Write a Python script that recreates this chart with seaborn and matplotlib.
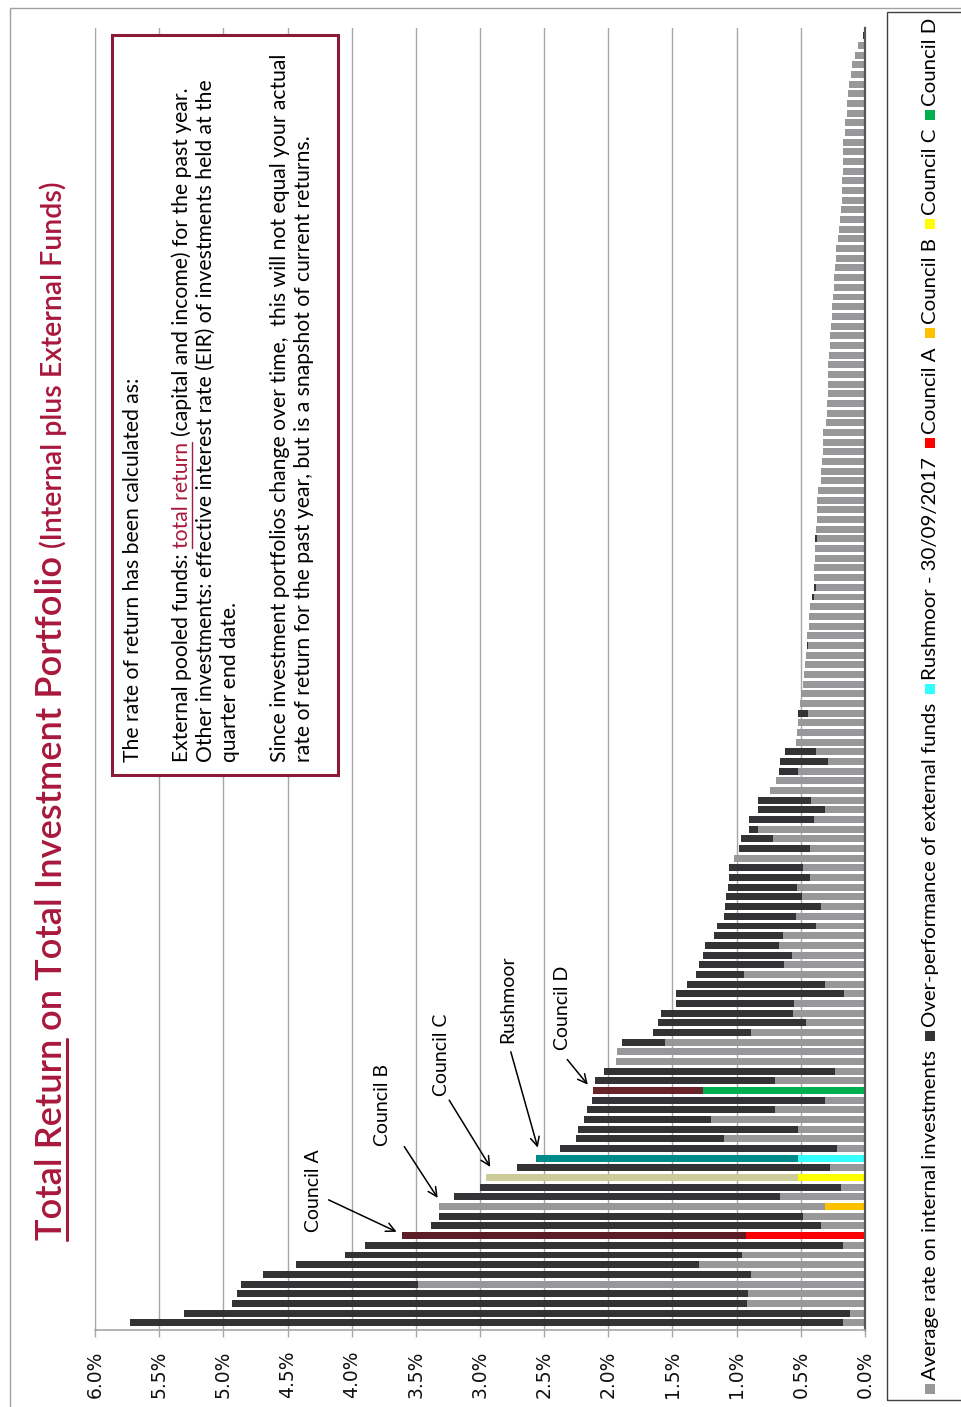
import numpy as np
import pandas as pd
import matplotlib
matplotlib.use('Agg')
import matplotlib.pyplot as plt
import seaborn as sns
from matplotlib.patches import Rectangle
from matplotlib.lines import Line2D

# bar values in %, listed from the first (bottom) bar to the last (top) bar
total_return = [5.73, 5.31, 4.93, 4.89, 4.86, 4.69, 4.43, 4.05, 3.90, 3.61,
                3.38, 3.32, 3.32, 3.20, 3.00, 2.95, 2.71, 2.56, 2.38, 2.25,
                2.24, 2.19, 2.17, 2.13, 2.12, 2.10, 2.03, 1.94, 1.93, 1.89,
                1.65, 1.61, 1.59, 1.47, 1.47, 1.39, 1.32, 1.29, 1.26, 1.25,
                1.18, 1.15, 1.10, 1.09, 1.08, 1.07, 1.06, 1.06, 1.02, 0.98,
                0.97, 0.90, 0.90, 0.83, 0.83, 0.74, 0.69, 0.67, 0.66, 0.62,
                0.535, 0.527, 0.52, 0.52, 0.51, 0.50, 0.48, 0.475, 0.467, 0.46,
                0.455, 0.452, 0.436, 0.436, 0.43, 0.41, 0.40, 0.40, 0.395, 0.387,
                0.387, 0.387, 0.38, 0.372, 0.372, 0.372, 0.364, 0.343, 0.343, 0.335,
                0.327, 0.327, 0.327, 0.304, 0.296, 0.296, 0.288, 0.288, 0.288, 0.288,
                0.280, 0.272, 0.272, 0.264, 0.257, 0.257, 0.249, 0.241, 0.241, 0.233,
                0.225, 0.225, 0.209, 0.202, 0.196, 0.188, 0.181, 0.181, 0.180, 0.175,
                0.175, 0.175, 0.168, 0.152, 0.152, 0.144, 0.144, 0.136, 0.128, 0.107,
                0.099, 0.076, 0.055, 0.012]

internal_rate = [0.17, 0.12, 0.92, 0.91, 3.48, 0.89, 1.29, 0.96, 0.17, 0.93,
                 0.34, 0.48, 0.31, 0.66, 0.19, 0.52, 0.27, 0.52, 0.22, 1.10,
                 0.52, 1.20, 0.70, 0.31, 1.26, 0.70, 0.23, 1.94, 1.93, 1.56,
                 0.89, 0.46, 0.56, 0.55, 0.16, 0.31, 0.94, 0.63, 0.57, 0.67,
                 0.64, 0.38, 0.54, 0.34, 0.49, 0.53, 0.43, 0.48, 1.02, 0.43,
                 0.72, 0.83, 0.40, 0.31, 0.42, 0.74, 0.69, 0.52, 0.29, 0.38,
                 0.535, 0.527, 0.52, 0.447, 0.51, 0.50, 0.48, 0.475, 0.467, 0.46,
                 0.444, 0.452, 0.436, 0.436, 0.43, 0.40, 0.385, 0.40, 0.395, 0.387,
                 0.387, 0.374, 0.38, 0.372, 0.372, 0.372, 0.364, 0.343, 0.343, 0.335,
                 0.327, 0.327, 0.327, 0.304, 0.296, 0.296, 0.288, 0.288, 0.288, 0.288,
                 0.280, 0.272, 0.272, 0.264, 0.257, 0.257, 0.249, 0.241, 0.241, 0.233,
                 0.225, 0.225, 0.209, 0.202, 0.196, 0.188, 0.181, 0.181, 0.180, 0.175,
                 0.175, 0.175, 0.168, 0.152, 0.152, 0.144, 0.144, 0.136, 0.128, 0.107,
                 0.099, 0.076, 0.055, 0.0]

highlight_names = ['Council A', 'Council B', 'Council C', 'Rushmoor', 'Council D']
highlight_pos = [9, 12, 15, 17, 24]

GREY = '#98989B'
DARK = '#333335'
base_colors = {'Council A': '#FF0000', 'Council B': '#FFC000', 'Council C': '#FFFF00',
               'Rushmoor': '#33FFFF', 'Council D': '#00B050'}
top_colors = {'Council A': '#5E1D26', 'Council B': GREY, 'Council C': '#CCCC9A',
              'Rushmoor': '#008B8B', 'Council D': '#6A2429'}

xticks = [0.0, 0.5, 1.0, 1.5, 2.0, 2.5, 3.0, 3.5, 4.0, 4.5, 5.0, 5.5, 6.0]

# annotation placement (value %, bar position)
annot_text_at = [(4.30, 13.7), (3.76, 22.5), (3.30, 27.7), (2.78, 33.4), (2.36, 32.5)]
annot_from = [(4.18, 12.7), (3.59, 18.2), (3.24, 23.0), (2.76, 28.0), (2.32, 27.2)]
annot_to = [(3.65, 9.4), (3.33, 12.9), (2.92, 16.1), (2.55, 18.1), (2.16, 24.6)]

legend_labels = ['Average rate on internal investments', 'Over-performance of external funds',
                 'Rushmoor - 30/09/2017', 'Council A', 'Council B', 'Council C', 'Council D']
legend_colors = [GREY, DARK, '#33FFFF', '#FF0000', '#FFC000', '#FFFF00', '#00B050']

TITLE_COL = '#A8183C'
BOX_COL = '#8B1A38'

df = pd.DataFrame({'pos': np.arange(len(total_return)),
                   'total': total_return,
                   'base': internal_rate})
df['top_col'] = DARK
df['base_col'] = GREY
for name, p in zip(highlight_names, highlight_pos):
    df.loc[p, 'top_col'] = top_colors[name]
    df.loc[p, 'base_col'] = base_colors[name]

sns.set_style('white')
plt.rcParams['font.family'] = ['Lato', 'DejaVu Sans']

W, H = 962, 1407
fig = plt.figure(figsize=(W / 100, H / 100), dpi=100)
ax = fig.add_axes([95 / W, 1 - 1330 / H, (865 - 95) / W, (1330 - 28) / H])

for col, ccol in [('total', 'top_col'), ('base', 'base_col')]:
    sns.barplot(data=df, x=col, y='pos', hue=ccol,
                palette={c: c for c in df[ccol].unique()},
                orient='h', native_scale=True, dodge=False, width=0.72,
                saturation=1, errorbar=None, legend=False, linewidth=0, ax=ax)

ax.set_xlim(6, 0)
ax.set_ylim(-0.75, 133.8)
ax.set_xticks(xticks)
ax.set_xticklabels([f'{t:.1f}%' for t in xticks], rotation=90,
                   fontfamily='DejaVu Sans', fontsize=13.5, color='#111111')
ax.set_yticks([])
ax.set_xlabel('')
ax.set_ylabel('')
ax.grid(axis='x', color='#A6A6A6', lw=1)
ax.set_axisbelow(True)
ax.tick_params(axis='x', bottom=True, direction='out', length=5, width=1,
               color='#A6A6A6', pad=10)
ax.spines['top'].set_visible(False)
ax.spines['left'].set_color('#A6A6A6')
ax.spines['bottom'].set_color('#A6A6A6')
ax.spines['bottom'].set_linewidth(1.2)
ax.spines['right'].set_color('#555555')
ax.spines['right'].set_linewidth(1.6)

# annotations
for name, tp, fp, hp in zip(highlight_names, annot_text_at, annot_from, annot_to):
    ax.text(tp[0], tp[1], name, rotation=90, ha='center', va='center',
            fontsize=14, color='black')
    ax.annotate('', xy=hp, xytext=fp,
                arrowprops=dict(arrowstyle='->', color='black', lw=1.1,
                                shrinkA=0, shrinkB=0, mutation_scale=16))

renderer = fig.canvas.get_renderer()


def rtext(x, y, s, va='baseline', **kw):
    # x, y in picture pixels (origin top-left); text reads bottom to top
    return fig.text(x / W, 1 - y / H, s, rotation=90, rotation_mode='anchor',
                    ha='left', va=va, zorder=6, **kw)


def width_of(s, **kw):
    t = fig.text(0, 0, s, **kw)
    w = t.get_window_extent(renderer).width
    t.remove()
    return w


def fit_size(s, target, **kw):
    return 10 * target / width_of(s, fontsize=10, **kw)


def space_of(**kw):
    return width_of('x x', **kw) - width_of('xx', **kw)


# title
tkw = dict(color=TITLE_COL, weight='semibold')
ts = fit_size('Total Return on Total Investment Portfolio', 685, **tkw)
p1 = 'Total Return'
y0 = 1240
rtext(62, y0, p1, fontsize=ts, **tkw)
l1 = width_of(p1, fontsize=ts, **tkw)
sp = space_of(fontsize=ts, **tkw)
rtext(62, y0 - l1 - sp, 'on Total Investment Portfolio', fontsize=ts, **tkw)
fig.add_artist(Line2D([67 / W, 67 / W], [1 - y0 / H, 1 - (y0 - l1) / H],
                      color=TITLE_COL, lw=2.2, zorder=6))
ss = fit_size('(Internal plus External Funds)', 368, **tkw)
rtext(62, 548, '(Internal plus External Funds)', fontsize=ss, **tkw)

# text box
fig.add_artist(Rectangle((112 / W, 1 - 775 / H), (338 - 112) / W, (775 - 35) / H,
                         transform=fig.transFigure, facecolor='white',
                         edgecolor=BOX_COL, lw=2.2, zorder=5))
bkw = dict(color='black')
bs = fit_size('External pooled funds: total return (capital and income) for the past year.', 674)
ystart = 762
rtext(133, ystart, 'The rate of return has been calculated as:', va='center', fontsize=bs, **bkw)
pieces = [('External pooled funds:', 'black'), ('total return', TITLE_COL),
          ('(capital and income) for the past year.', 'black')]
bsp = space_of(fontsize=bs)
yy = ystart
for s, c in pieces:
    rtext(182, yy, s, va='center', fontsize=bs, color=c)
    lw_ = width_of(s, fontsize=bs)
    if c == TITLE_COL:
        fig.add_artist(Line2D([192 / W, 192 / W], [1 - yy / H, 1 - (yy - lw_) / H],
                              color=TITLE_COL, lw=1, zorder=6))
    yy -= lw_ + bsp
rtext(206, ystart, 'Other investments: effective interest rate (EIR) of investments held at the',
      va='center', fontsize=bs, **bkw)
rtext(230, ystart, 'quarter end date.', va='center', fontsize=bs, **bkw)
rtext(280, ystart, 'Since investment portfolios change over time,  this will not equal your actual',
      va='center', fontsize=bs, **bkw)
rtext(304, ystart, 'rate of return for the past year, but is a snapshot of current returns.',
      va='center', fontsize=bs, **bkw)

# legend
fig.add_artist(Rectangle((887 / W, 1 - 1400 / H), 100 / W, (1400 - 12) / H,
                         transform=fig.transFigure, fill=False,
                         edgecolor='#404040', lw=1, zorder=5))
sq, g1, g2 = 10, 4, 9
n = len(legend_labels)
text_total = 1379 - n * (sq + g1) - (n - 1) * g2
ls = 10 * text_total / sum(width_of(s, fontsize=10) for s in legend_labels)
yy = 1394
for s, c in zip(legend_labels, legend_colors):
    fig.add_artist(Rectangle((925 / W, 1 - yy / H), sq / W, sq / H,
                             transform=fig.transFigure, facecolor=c,
                             edgecolor='none', zorder=6))
    yy -= sq + g1
    rtext(931, yy, s, va='center', fontsize=ls, color='black')
    yy -= width_of(s, fontsize=ls) + g2

# outer frame
fig.add_artist(Rectangle((10 / W, -0.01), 1.0, 1 - 8 / H + 0.01,
                         transform=fig.transFigure, fill=False,
                         edgecolor='#A0A0A0', lw=1, zorder=4))

fig.savefig('out.png', dpi=100)
